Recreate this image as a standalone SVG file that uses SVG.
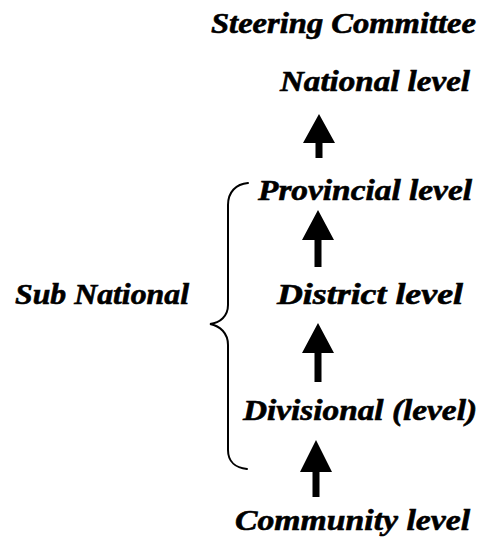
<svg xmlns="http://www.w3.org/2000/svg" width="482" height="543" viewBox="0 0 482 543">
<style>
.t{font-family:"Liberation Serif","Times New Roman",serif;font-weight:bold;font-style:italic;font-size:29px;fill:#000;stroke:#000;stroke-width:0.6}
.arrow{fill:#000;stroke:none}
.brace{fill:none;stroke:#000;stroke-width:2;stroke-linecap:round}
</style>
<rect width="482" height="543" fill="#fff"/>
<g id="steering"><text class="t" x="211" y="33" textLength="265" lengthAdjust="spacingAndGlyphs">Steering Committee</text></g>
<g id="national"><text class="t" x="280" y="91" textLength="190" lengthAdjust="spacingAndGlyphs">National level</text></g>
<g id="provincial"><text class="t" x="258" y="200" textLength="214" lengthAdjust="spacingAndGlyphs">Provincial level</text></g>
<g id="subnational"><text class="t" x="15" y="304" textLength="174" lengthAdjust="spacingAndGlyphs">Sub National</text></g>
<g id="district"><text class="t" x="277" y="304" textLength="186" lengthAdjust="spacingAndGlyphs">District level</text></g>
<g id="divisional"><text class="t" x="243" y="420" textLength="234" lengthAdjust="spacingAndGlyphs">Divisional (level)</text></g>
<g id="community"><text class="t" x="235" y="530" textLength="235" lengthAdjust="spacingAndGlyphs">Community level</text></g>
<g id="connectors">
<path class="arrow" d="M319,114 L335,143 L322.5,143 L322.5,158 L315.5,158 L315.5,143 L303,143 Z"/>
<path class="arrow" d="M318,210 L334,240 L321.5,240 L321.5,267 L314.5,267 L314.5,240 L302,240 Z"/>
<path class="arrow" d="M318,323 L334,353 L321.5,353 L321.5,382 L314.5,382 L314.5,353 L302,353 Z"/>
<path class="arrow" d="M316,440 L332,472 L319.5,472 L319.5,497 L312.5,497 L312.5,472 L300,472 Z"/>
<path class="brace" d="M248,183 C236,184 228,192 228,205 L228,305 C228,316 220,323 210,324 C220,326 228,333 228,345 L228,450 C228,462 236,468 247,469"/>
</g>
</svg>
